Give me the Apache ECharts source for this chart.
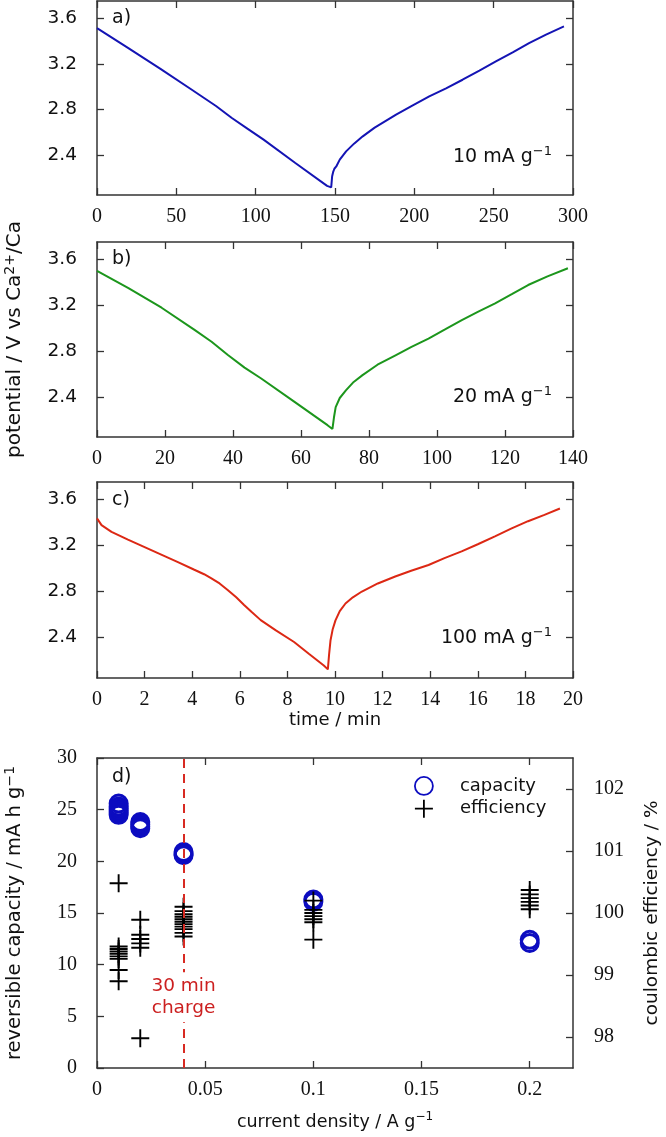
<!DOCTYPE html>
<html><head><meta charset="utf-8">
<script src="https://cdn.jsdelivr.net/npm/echarts@6/dist/echarts.min.js"></script>
<style>html,body{margin:0;padding:0;background:#fff}#c{width:666px;height:1137px}</style>
</head><body><div id="c"></div>
<script>
// ---------- data ----------
const timeA = [0,20,40,60,75,85,95,105,125,145,147.6, 148.2,148.8,149.6,150.8,153,157,162,167.5,175,188.5,199,209.4,220,230.4,241,251.4,262,272.3,283,294.3];
const potA  = [3.512,3.335,3.155,2.97,2.83,2.725,2.63,2.535,2.33,2.13,2.117, 2.214,2.25,2.28,2.30,2.36,2.432,2.50,2.564,2.64,2.754,2.835,2.914,2.985,3.06,3.14,3.22,3.30,3.38,3.455,3.527];

const timeB = [0,9.25,19.0,28.8,33.7,38.5,43.4,48.3,58.1,67.8,69.25, 69.7,70.2,71.4,73.2,75.5,78.0,82.5,87.8,92.5,97.5,102.5,107.3,112,117.1,122,126.8,132.5,138.5];
const potB  = [3.498,3.347,3.177,2.982,2.88,2.765,2.655,2.56,2.356,2.153,2.12, 2.222,2.31,2.39,2.456,2.53,2.587,2.68,2.762,2.835,2.908,2.99,3.069,3.14,3.215,3.295,3.375,3.45,3.521];

const timeC = [0,0.19,0.61,1.30,2.0,2.70,3.4,4.09,4.5,4.79,5.15,5.49,5.85,6.18,6.5,6.88,7.5,8.28,8.9,9.53,9.70, 9.75,9.81,9.9,10.02,10.2,10.44,10.75,11.13,11.8,12.53,13.2,13.93,14.6,15.32,16.0,16.72,17.4,18.11,18.8,19.45];
const potC  = [3.434,3.376,3.318,3.25,3.185,3.12,3.055,2.989,2.95,2.916,2.87,2.814,2.75,2.683,2.622,2.552,2.465,2.362,2.26,2.159,2.125, 2.25,2.375,2.47,2.55,2.63,2.696,2.75,2.80,2.87,2.93,2.98,3.03,3.09,3.148,3.21,3.279,3.345,3.41,3.465,3.52];

const potentialTicks = [2.4, 2.8, 3.2, 3.6];
const timeTicksA = [0,50,100,150,200,250,300];
const timeTicksB = [0,20,40,60,80,100,120,140];
const timeTicksC = [0,2,4,6,8,10,12,14,16,18,20];

const densities = [0.01, 0.02, 0.04, 0.1, 0.2];
const capacity = [
  [25.6,25.3,25.1,24.9,24.7,24.5],
  [23.8,23.6,23.4,23.2],
  [20.9,20.7,20.6],
  [16.3,16.1],
  [12.4,12.1]
];
const efficiency = [
  [100.48,99.46,99.42,99.38,99.34,99.30,99.26,99.08,98.90],
  [99.89,99.65,99.58,99.51,99.44,97.98],
  [100.1,100.03,99.98,99.94,99.90,99.86,99.82,99.78,99.74,99.68,99.62],
  [100.2,100.05,100.0,99.95,99.9,99.85,99.57],
  [100.37,100.3,100.24,100.18,100.12,100.06]
];
const densityTicks = [0, 0.05, 0.1, 0.15, 0.2];
const capacityTicks = [0,5,10,15,20,25,30];
const efficiencyTicks = [98,99,100,101,102];
const chargeLineX = 0.04;
const chargeNote = {x: 0.04, y: 6.85, text: '30 min\ncharge'};

// ---------- style ----------
const SANS = '"DejaVu Sans", sans-serif';
const SERIF = '"Liberation Serif", serif';
const AX = '#333';
const TXT = '#111';

function pairs(xs, ys){ return xs.map((x,i)=>[x, ys[i]]); }
function flat(xs, groups){ const out=[]; xs.forEach((x,i)=>groups[i].forEach(v=>out.push([x,v]))); return out; }

const grids = [
  {left:97, right:93, top:1, height:194},
  {left:97, right:93, top:242, height:195},
  {left:97, right:93, top:482, height:196},
  {left:97, right:93, top:758, height:310}
].map(g=>Object.assign({outerBoundsMode:'none', containLabel:false}, g));

const aLine = {show:true, onZero:false, lineStyle:{color:AX, width:1.5}};
function tick(vals){ return {show:true, inside:true, length:7, customValues: vals, lineStyle:{color:AX, width:1.3}}; }
const supRich = (fs)=>({t:{fontFamily:SANS, fontSize:fs, color:TXT}, s:{fontFamily:SANS, fontSize:Math.round(fs*0.7), color:TXT, padding:[0,0,10,0]}});

const xAxes = [];
const yAxes = [];
const timeSets = [[300,timeTicksA],[140,timeTicksB],[20,timeTicksC]];
timeSets.forEach(([mx, tk], i)=>{
  xAxes.push({type:'value', gridIndex:i, min:0, max:mx, position:'bottom',
    axisLine:aLine, splitLine:{show:false}, axisTick:tick(tk),
    axisLabel:{customValues:tk, margin:12, fontFamily:SERIF, fontSize:20, color:TXT},
    name: i===2 ? 'time / min' : '', nameLocation:'middle', nameGap:32,
    nameTextStyle:{fontFamily:SANS, fontSize:18, color:TXT}});
  xAxes.push({type:'value', gridIndex:i, min:0, max:mx, position:'top',
    axisLine:aLine, splitLine:{show:false}, axisTick:tick(tk), axisLabel:{show:false}});
  yAxes.push({type:'value', gridIndex:i, min:2.05, max:3.75, position:'left',
    axisLine:aLine, splitLine:{show:false}, axisTick:tick(potentialTicks),
    axisLabel:{customValues:potentialTicks, margin:20, fontFamily:SANS, fontSize:18.5, color:TXT,
      formatter:v=>v.toFixed(1)},
    name: i===1 ? '{t|potential / V vs Ca}{s|2+}{t|/Ca}' : '', nameLocation:'middle', nameRotate:90, nameGap:70,
    nameTextStyle:{rich:supRich(20)}});
  yAxes.push({type:'value', gridIndex:i, min:2.05, max:3.75, position:'right',
    axisLine:aLine, splitLine:{show:false}, axisTick:tick(potentialTicks), axisLabel:{show:false}});
});
// panel d
xAxes.push({type:'value', gridIndex:3, min:0, max:0.22, position:'bottom',
  axisLine:aLine, splitLine:{show:false}, axisTick:tick(densityTicks),
  axisLabel:{customValues:densityTicks, margin:12, fontFamily:SERIF, fontSize:20, color:TXT, formatter:v=>String(v)},
  name:'{t|current density / A g}{s|−1}', nameLocation:'middle', nameGap:43,
  nameTextStyle:{rich:supRich(17.5)}});
xAxes.push({type:'value', gridIndex:3, min:0, max:0.22, position:'top',
  axisLine:aLine, splitLine:{show:false}, axisTick:tick(densityTicks), axisLabel:{show:false}});
yAxes.push({type:'value', gridIndex:3, min:0, max:30, interval:5, position:'left',
  axisLine:aLine, splitLine:{show:false}, axisTick:tick(capacityTicks),
  axisLabel:{margin:20, fontFamily:SERIF, fontSize:20, color:TXT},
  name:'{t|reversible capacity / mA h g}{s|−1}', nameLocation:'middle', nameRotate:90, nameGap:70,
  nameTextStyle:{rich:supRich(19.5)}});
yAxes.push({type:'value', gridIndex:3, min:97.5, max:102.5, position:'right',
  axisLine:aLine, splitLine:{show:false}, axisTick:tick(efficiencyTicks),
  axisLabel:{customValues:efficiencyTicks, margin:21, fontFamily:SERIF, fontSize:20, color:TXT},
  name:'coulombic efficiency / %', nameLocation:'middle', nameRotate:90, nameGap:70,
  nameTextStyle:{fontFamily:SANS, fontSize:18.5, color:TXT}});

const lineColors = ['#1414b4', '#1c961c', '#dc2814'];
const curves = [pairs(timeA,potA), pairs(timeB,potB), pairs(timeC,potC)];
const series = curves.map((d,i)=>({type:'line', xAxisIndex:2*i, yAxisIndex:2*i, data:d, showSymbol:false,
  lineStyle:{color:lineColors[i], width:2}, silent:true, animation:false}));

series.push({name:'capacity', type:'scatter', xAxisIndex:6, yAxisIndex:6, data:flat(densities, capacity),
  symbol:'circle', symbolSize:17, itemStyle:{color:'rgba(0,0,0,0)', borderColor:'#0c0cc0', borderWidth:3, opacity:1},
  markLine:{symbol:'none', silent:true, animation:false, label:{show:false},
    lineStyle:{color:'#d82a22', type:[9,6], width:2, opacity:1}, data:[{xAxis:chargeLineX}]},
  animation:false, z:3});
series.push({name:'efficiency', type:'scatter', xAxisIndex:6, yAxisIndex:7, data:flat(densities, efficiency),
  symbol:'path://M0,10L20,10M10,0L10,20', symbolSize:18,
  itemStyle:{color:'rgba(0,0,0,0)', borderColor:'#000', borderWidth:1.9, opacity:1}, animation:false, z:4});
series.push({name:'note', type:'scatter', xAxisIndex:6, yAxisIndex:6, data:[[chargeNote.x, chargeNote.y]],
  symbolSize:0, silent:true, animation:false, z:5, itemStyle:{opacity:1},
  label:{show:true, position:'inside', formatter:chargeNote.text, color:'#cc2020', fontFamily:SANS, fontSize:18.5,
    lineHeight:22, backgroundColor:'#fff', padding:[3,2]}});

const panelLabel = (t,y)=>({type:'text', style:{text:t, x:112, y:y, fill:TXT, font:'19px '+SANS, verticalAlign:'middle'}});
const rateLabel = (n,y)=>({type:'text', style:{text:'{a|'+n+' mA g}{s|−1}', x:552, y:y, align:'right', verticalAlign:'middle',
  rich:{a:{fontFamily:SANS, fontSize:19, fill:TXT}, s:{fontFamily:SANS, fontSize:13, fill:TXT, padding:[0,0,10,0]}}}});

const chart = echarts.init(document.getElementById('c'), null, {renderer:'canvas'});
chart.setOption({
  animation:false,
  backgroundColor:'#fff',
  grid:grids, xAxis:xAxes, yAxis:yAxes, series:series,
  legend:{data:['capacity','efficiency'], orient:'vertical', left:409, top:771, itemWidth:18, itemHeight:18, itemGap:3,
    itemStyle:{borderWidth:1.8, opacity:1},
    textStyle:{fontFamily:SANS, fontSize:18, color:TXT, padding:[0,0,0,22]}},
  graphic:[panelLabel('a)',18), panelLabel('b)',259), panelLabel('c)',500), panelLabel('d)',777),
    rateLabel('10',157), rateLabel('20',397), rateLabel('100',638)]
});
</script></body></html>
